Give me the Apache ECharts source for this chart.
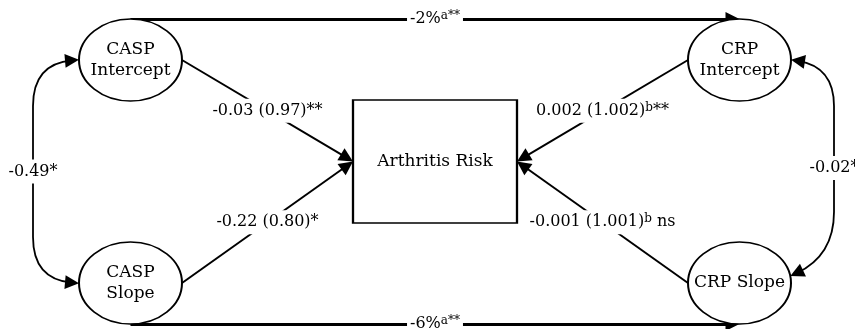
<!DOCTYPE html>
<html><head><meta charset="utf-8">
<script src="https://cdn.jsdelivr.net/npm/echarts@6/dist/echarts.min.js"></script>
<style>html,body{margin:0;padding:0;background:#fff}#c{width:855px;height:329px}</style>
</head><body><div id="c"></div>
<script>
// ---------------- data ----------------
const factors = ['CASP Intercept', 'CASP Slope', 'CRP Intercept', 'CRP Slope'];
const factorText = ['CASP\nIntercept', 'CASP\nSlope', 'CRP\nIntercept', 'CRP Slope'];
const outcome = 'Arthritis Risk';
// regression paths factor -> outcome: log-odds (odds ratio)
const regLogOdds = ['-0.03', '-0.22', '0.002', '-0.001'];
const regOddsRatio = ['0.97', '0.80', '1.002', '1.001'];
const regNote = ['', '', 'b', 'b'];
const regSig = ['**', '*', '**', ' ns'];
// change paths CASP -> CRP
const changeFrom = ['CASP Intercept', 'CASP Slope'];
const changeTo = ['CRP Intercept', 'CRP Slope'];
const changePct = ['-2%', '-6%'];
const changeNote = ['a**', 'a**'];
// covariances
const covA = ['CASP Intercept', 'CRP Intercept'];
const covB = ['CASP Slope', 'CRP Slope'];
const covValue = ['-0.49*', '-0.02*'];

// ---------------- layout ----------------
const W = 855, H = 329;
const center = {
  'CASP Intercept': [130.5, 60], 'CASP Slope': [130.5, 283],
  'CRP Intercept': [739.5, 60], 'CRP Slope': [739.5, 283],
  'Arthritis Risk': [435, 161.5]
};
const ELL = [103, 82];
const BOX = [164, 123];
const ARROW = 14;
const FONT = 'DejaVu Serif';
const ellipsePath = 'path://M0,50 A50,50 0 1,1 100,50 A50,50 0 1,1 0,50 Z';

function ell(name, deg) {
  const c = center[name], a = deg * Math.PI / 180;
  return [c[0] + ELL[0] / 2 * Math.cos(a), c[1] - ELL[1] / 2 * Math.sin(a)];
}
const boxL = [center[outcome][0] - BOX[0] / 2, center[outcome][1]];
const boxR = [center[outcome][0] + BOX[0] / 2, center[outcome][1]];

const nodes = [];
const links = [];
function anchor(id, p) {
  nodes.push({ name: id, value: p, symbol: 'none', symbolSize: ARROW, label: { show: false } });
}
function labelNode(id, p, text) {
  nodes.push({
    name: id, value: p, symbol: 'circle', symbolSize: 1,
    itemStyle: { color: 'rgba(0,0,0,0)', borderWidth: 0 },
    label: { show: true, position: 'inside', formatter: text, backgroundColor: '#fff', padding: [3, 3] }
  });
}
function mid(a, b) { return [(a[0] + b[0]) / 2, (a[1] + b[1]) / 2]; }

// factor and outcome nodes
factors.forEach((f, i) => {
  nodes.push({
    name: f, value: center[f], symbol: ellipsePath, symbolSize: ELL,
    itemStyle: { color: '#fff', borderColor: '#000', borderWidth: 1.8 },
    label: { show: true, position: 'inside', formatter: factorText[i], fontSize: 17, lineHeight: 21 }
  });
});
nodes.push({
  name: outcome, value: center[outcome], symbol: 'rect', symbolSize: BOX,
  itemStyle: { color: '#fff', borderColor: '#000', borderWidth: 2 },
  label: { show: true, position: 'inside', formatter: outcome, fontSize: 17 }
});
anchor('boxL', boxL);
anchor('boxR', boxR);

const LS = (w, c) => ({ width: w, color: '#000', opacity: 1, curveness: c });

// regression paths
factors.forEach((f, i) => {
  const isCasp = f.indexOf('CASP') === 0;
  const s = ell(f, isCasp ? 0 : 180);
  const t = isCasp ? boxL : boxR;
  anchor('src' + i, s);
  links.push({ source: 'src' + i, target: isCasp ? 'boxL' : 'boxR', symbol: ['none', 'triangle'], symbolSize: ARROW,
    lineStyle: LS(2, 0) });
  const txt = regLogOdds[i] + ' (' + regOddsRatio[i] + ')' + (regNote[i] ? '{sup|' + regNote[i] + '}' : '') + regSig[i];
  labelNode('lab' + i, mid(s, t), txt);
});

// change paths (top / bottom)
changeFrom.forEach((f, i) => {
  const deg = i === 0 ? 90 : -90;
  const s = ell(f, deg), t = ell(changeTo[i], deg);
  anchor('chS' + i, s); anchor('chT' + i, t);
  links.push({ source: 'chS' + i, target: 'chT' + i, symbol: ['none', 'triangle'], symbolSize: ARROW,
    lineStyle: LS(3, 0) });
  labelNode('chL' + i, mid(s, t), changePct[i] + '{sup|' + changeNote[i] + '}');
});

// covariance curves
covA.forEach((a, i) => {
  const left = i === 0;
  const bendX = left ? 33 : 834;
  const pa = ell(a, left ? 180 : 0);
  const pb = ell(covB[i], left ? 180 : 10);
  const b1 = [bendX, pa[1] + 46];
  const b2 = [bendX, left ? pb[1] - 46 : pb[1] - 64];
  anchor('cvA' + i, pa); anchor('cvB' + i, pb);
  anchor('cv1' + i, b1); anchor('cv2' + i, b2);
  links.push({ source: 'cv1' + i, target: 'cvA' + i, symbol: ['none', 'triangle'], symbolSize: ARROW,
    lineStyle: LS(1.8, left ? 0.5 : -0.467) });
  links.push({ source: 'cv1' + i, target: 'cv2' + i, symbol: ['none', 'none'],
    lineStyle: LS(1.8, 0) });
  links.push({ source: 'cv2' + i, target: 'cvB' + i, symbol: ['none', 'triangle'], symbolSize: ARROW,
    lineStyle: LS(1.8, left ? -0.5 : 0.343) });
  labelNode('cvL' + i, [bendX, (pa[1] + pb[1]) / 2], covValue[i]);
});

const chart = echarts.init(document.getElementById('c'), null, { renderer: 'canvas' });
chart.setOption({
  animation: false,
  backgroundColor: '#fff',
  grid: { left: 0, right: 0, top: 0, bottom: 0, show: false },
  xAxis: { type: 'value', min: 0, max: W, show: false },
  yAxis: { type: 'value', min: 0, max: H, inverse: true, show: false },
  series: [{
    type: 'graph',
    coordinateSystem: 'cartesian2d',
    layout: 'none',
    silent: true,
    emphasis: { disabled: true },
    lineStyle: { color: '#000', opacity: 1 },
    label: {
      color: '#000', fontFamily: FONT, fontSize: 16, lineHeight: 18,
      rich: { sup: { fontFamily: FONT, fontSize: 12, color: '#000', verticalAlign: 'top' } }
    },
    data: nodes,
    links: links
  }]
});
</script></body></html>
